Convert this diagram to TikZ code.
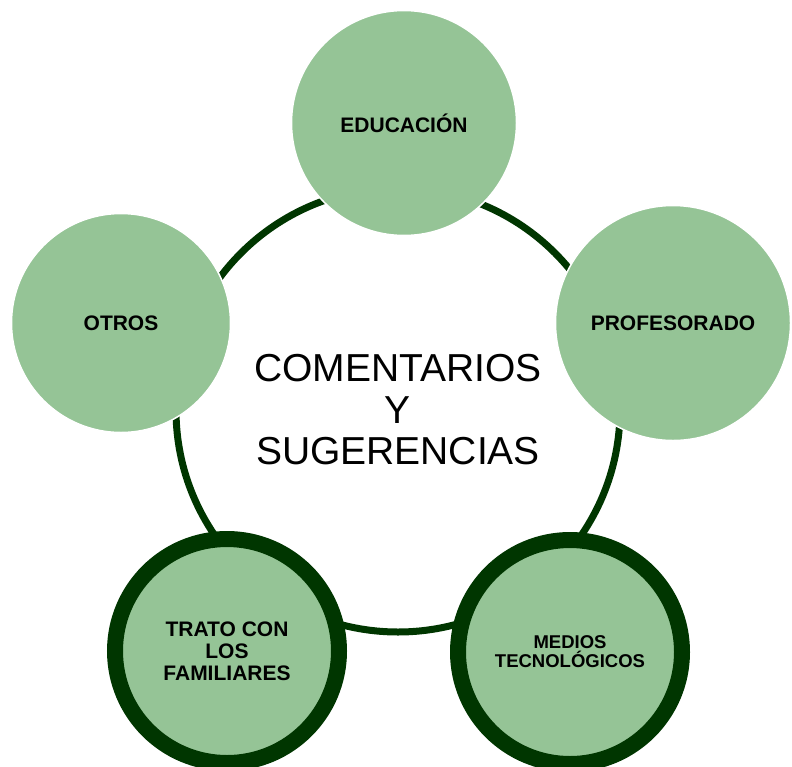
\documentclass[tikz,border=0pt]{standalone}
\usepackage{fontspec}
\setmainfont{Liberation Sans}
\definecolor{hoja}{RGB}{149,196,150}
\definecolor{musgo}{RGB}{0,54,0}

\begin{document}
\begin{tikzpicture}[x=1pt,y=-1pt]
\tikzstyle{tema}=[circle,fill=hoja,draw=white,line width=1.5pt,inner sep=0pt,align=center,font=\bfseries\fontsize{21}{22}\selectfont]
\tikzstyle{tema marcado}=[tema,draw=musgo,line width=16pt,minimum size=224pt]
\tikzstyle{anillo}=[circle,draw=musgo,line width=7pt,minimum size=444pt,inner sep=0pt,align=center,font=\fontsize{39}{41.5}\selectfont]

\path[fill=white,use as bounding box] (0,0) rectangle (792,766);

% Central ring with the title
\node[anillo] (centro) at (398,410) {COMENTARIOS\\Y\\SUGERENCIAS};

% Plain topic circles
\foreach \nombre/\x/\y/\d/\texto in {educacion/404/123/225/EDUCACIÓN,
  profesorado/673/323/235/PROFESORADO, otros/121/323/219/OTROS}
\node[tema,minimum size=\d pt] (\nombre) at (\x,\y) {\texto};

% Topic circles with a dark border
\node[tema marcado] (trato) at (227,651) {TRATO CON\\LOS\\FAMILIARES};
\node[tema marcado,font=\bfseries\fontsize{18.5}{19}\selectfont] (medios) at (570,652) {MEDIOS\\TECNOLÓGICOS};

\end{tikzpicture}
\end{document}
